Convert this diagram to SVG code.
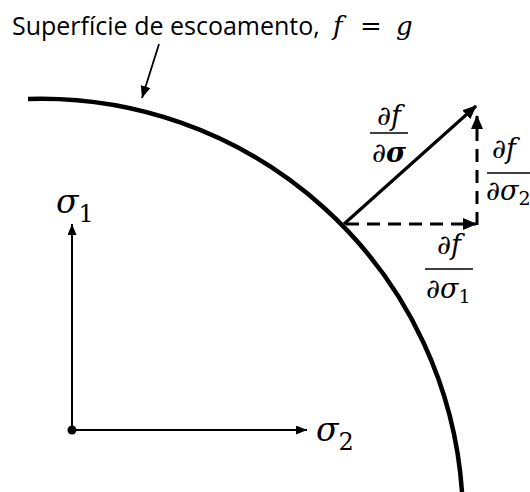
<svg xmlns="http://www.w3.org/2000/svg" width="530" height="492" viewBox="0 0 530 492">
<style>
.title{font-family:"Open Sans","Noto Sans",sans-serif;font-size:25px;fill:#000}
.m{font-family:"DejaVu Serif","Liberation Serif",serif;font-style:italic;fill:#000}
.up{font-style:normal}
.fr{font-size:27px}
.ax{font-size:33px}
.bar{stroke:#000;stroke-width:1.5}
.dash{stroke:#000;stroke-width:3;fill:none;stroke-dasharray:13 8}
</style>
<defs>
<marker id="ah" markerUnits="userSpaceOnUse" markerWidth="12" markerHeight="10" refX="12" refY="5" orient="auto"><path d="M0,0 L12,5 L0,10 z" fill="#000"/></marker>
<marker id="big" markerUnits="userSpaceOnUse" markerWidth="14" markerHeight="12" refX="13" refY="6" orient="auto"><path d="M0,0 L14,6 L0,12 z" fill="#000"/></marker>
<marker id="sm" markerUnits="userSpaceOnUse" markerWidth="11" markerHeight="9" refX="11" refY="4.5" orient="auto"><path d="M0,0 L11,4.5 L0,9 z" fill="#000"/></marker>
</defs>
<g id="title">
<text class="title" x="12" y="35">Superfície de escoamento,</text>
<text class="m" font-size="26" x="333" y="35">f</text>
<text class="m up" font-size="26" x="360" y="35">=</text>
<text class="m" font-size="26" x="396" y="35">g</text>
</g>
<g id="yield-surface">
<path d="M28,99 A422,422 0 0 1 462,492" fill="none" stroke="#000" stroke-width="4.5"/>
</g>
<g id="axes">
<circle cx="72" cy="430" r="4.5" fill="#000"/>
<text class="m ax" x="56" y="213">σ<tspan font-size="24" font-style="normal" dy="9">1</tspan></text>
<text class="m ax" x="316" y="441">σ<tspan font-size="24" font-style="normal" dy="9">2</tspan></text>
</g>
<g id="label-grad">
<text class="m fr" x="389" y="125" text-anchor="middle">∂f</text>
<line class="bar" x1="370" y1="133" x2="408" y2="133"/>
<text class="m fr" x="389" y="162" text-anchor="middle">∂<tspan font-weight="bold">σ</tspan></text>
</g>
<g id="label-d1">
<text class="m fr" x="449" y="254" text-anchor="middle">∂f</text>
<line class="bar" x1="425" y1="269" x2="473" y2="269"/>
<text class="m fr" x="426" y="298">∂σ<tspan font-size="19" font-style="normal" dy="5">1</tspan></text>
</g>
<g id="label-d2">
<text class="m fr" x="492" y="158">∂f</text>
<line class="bar" x1="487" y1="173" x2="532" y2="173"/>
<text class="m fr" x="486" y="200">∂σ<tspan font-size="19" font-style="normal" dy="5">2</tspan></text>
</g>
<g id="connectors">
<line x1="159" y1="44" x2="142" y2="98" stroke="#000" stroke-width="1.8" marker-end="url(#ah)"/>
<line x1="72" y1="430" x2="72" y2="224" stroke="#000" stroke-width="2" marker-end="url(#sm)"/>
<line x1="72" y1="430" x2="307" y2="430" stroke="#000" stroke-width="2" marker-end="url(#sm)"/>
<line x1="344" y1="224" x2="476" y2="106" stroke="#000" stroke-width="3.2" marker-end="url(#big)"/>
<line class="dash" x1="346" y1="224" x2="476" y2="224" marker-end="url(#big)"/>
<line class="dash" x1="477" y1="225" x2="477" y2="116" marker-end="url(#big)"/>
</g>
</svg>
